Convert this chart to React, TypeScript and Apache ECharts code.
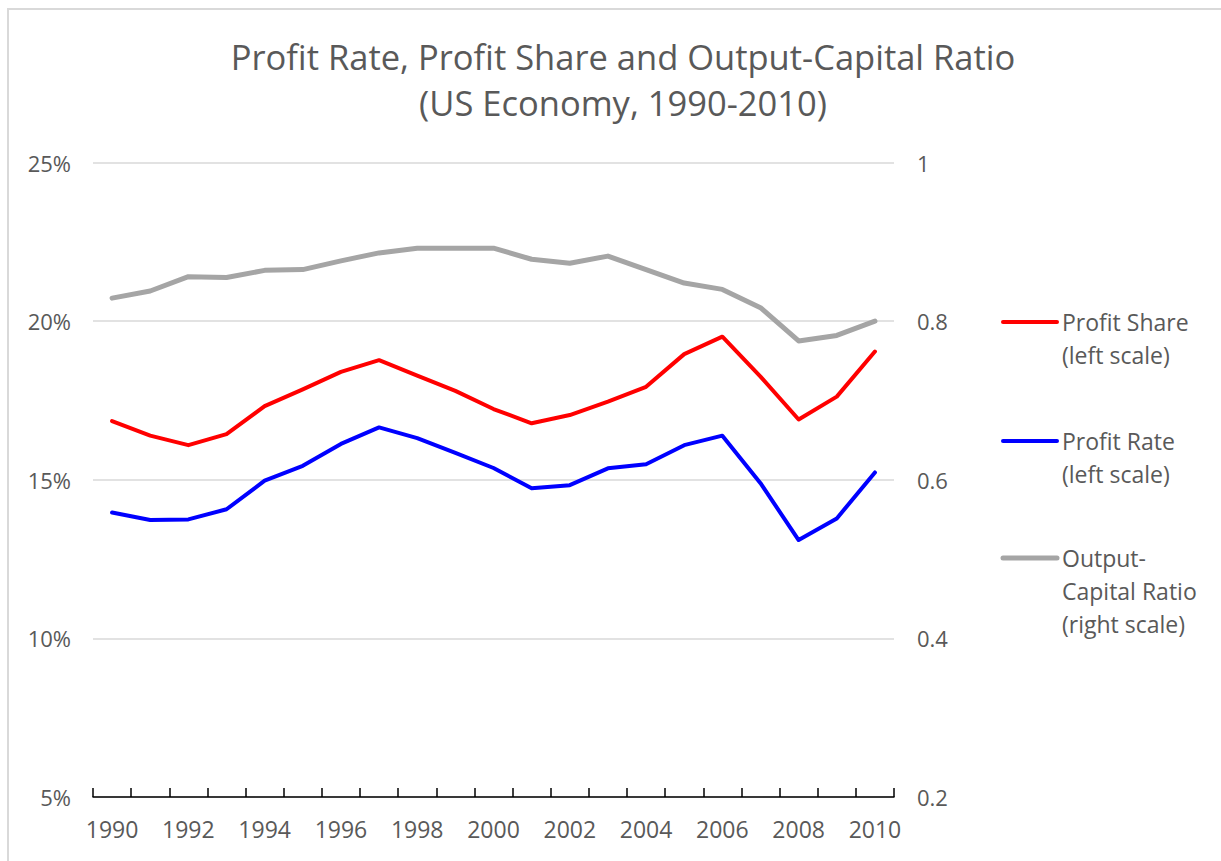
import React, { useEffect, useRef } from "react";
import * as echarts from "echarts";

const years = ["1990","1991","1992","1993","1994","1995","1996","1997","1998","1999","2000","2001","2002","2003","2004","2005","2006","2007","2008","2009","2010"];
const profitShare = [16.85,16.39,16.09,16.44,17.32,17.85,18.40,18.77,18.28,17.80,17.23,16.78,17.04,17.46,17.93,18.96,19.51,18.25,16.90,17.62,19.04];
const profitRate = [13.97,13.73,13.75,14.07,14.97,15.44,16.13,16.65,16.31,15.85,15.37,14.73,14.83,15.36,15.49,16.09,16.39,14.89,13.10,13.78,15.23];
const outputCapital = [0.829,0.838,0.856,0.855,0.864,0.865,0.876,0.886,0.892,0.892,0.892,0.878,0.873,0.882,0.865,0.848,0.840,0.817,0.775,0.782,0.800];

const titleLines = ["Profit Rate, Profit Share and Output-Capital Ratio", "(US Economy, 1990-2010)"];
const legendItems = [
  { label: "Profit Share\n(left scale)", color: "#FF0000", y: 322 },
  { label: "Profit Rate\n(left scale)", color: "#0000FF", y: 441 },
  { label: "Output-\nCapital Ratio\n(right scale)", color: "#A5A5A5", y: 558 },
];

const FONT = "'Open Sans', 'Noto Sans', sans-serif";
const TXT = "#595959";

export default function App() {
  const ref = useRef<HTMLDivElement>(null);
  useEffect(() => {
    if (!ref.current) return;
    const chart = echarts.init(ref.current, null, { renderer: "svg" });
    const graphics: any[] = [
      {
        type: "rect",
        shape: { x: 8, y: 9, width: 1400, height: 1000 },
        style: { fill: "none", stroke: "#D9D9D9", lineWidth: 2 },
        silent: true,
        z: -10,
      },
    ];
    legendItems.forEach((it) => {
      graphics.push({
        type: "line",
        shape: { x1: 1003, y1: it.y, x2: 1057, y2: it.y },
        style: { stroke: it.color, lineWidth: it.color === "#A5A5A5" ? 5 : 4, lineCap: "round" },
      });
      graphics.push({
        type: "text",
        x: 1062,
        y: it.y - 16.5,
        style: {
          text: it.label,
          fill: TXT,
          font: `23px ${FONT}`,
          lineHeight: 33,
          verticalAlign: "top",
          align: "left",
        },
      });
    });
    chart.setOption({
      animation: false,
      backgroundColor: "#ffffff",
      textStyle: { fontFamily: FONT },
      title: {
        text: titleLines.join("\n"),
        left: 618,
        top: 28,
        textAlign: "center",
        textStyle: { fontFamily: FONT, fontSize: 34.5, fontWeight: "normal", color: TXT, lineHeight: 46 },
      },
      grid: { left: 93, right: 327, top: 162.5, bottom: 64 },
      xAxis: {
        type: "category",
        data: years,
        boundaryGap: true,
        axisLine: { lineStyle: { color: "#000000", width: 1.5 } },
        axisTick: { show: true, inside: true, length: 9, interval: 0, lineStyle: { color: "#000000", width: 1.5 } },
        axisLabel: { interval: 1, color: TXT, fontSize: 23, fontFamily: FONT, margin: 20 },
        splitLine: { show: false },
      },
      yAxis: [
        {
          type: "value",
          min: 5,
          max: 25,
          interval: 5,
          axisLine: { show: false },
          axisTick: { show: false },
          axisLabel: { formatter: "{value}%", color: TXT, fontSize: 22, fontFamily: FONT, margin: 22 },
          splitLine: { lineStyle: { color: "#D9D9D9", width: 1.5 } },
        },
        {
          type: "value",
          min: 0.2,
          max: 1,
          interval: 0.2,
          axisLine: { show: false },
          axisTick: { show: false },
          axisLabel: {
            formatter: (v: number) => String(Math.round(v * 10) / 10),
            color: TXT,
            fontSize: 22,
            fontFamily: FONT,
            margin: 23,
          },
          splitLine: { show: false },
        },
      ],
      series: [
        {
          name: "Output-Capital Ratio",
          type: "line",
          yAxisIndex: 1,
          data: outputCapital,
          symbol: "none",
          lineStyle: { color: "#A5A5A5", width: 5, cap: "round", join: "round" },
          z: 2,
        },
        {
          name: "Profit Share",
          type: "line",
          data: profitShare,
          symbol: "none",
          lineStyle: { color: "#FF0000", width: 4, cap: "round", join: "round" },
          z: 3,
        },
        {
          name: "Profit Rate",
          type: "line",
          data: profitRate,
          symbol: "none",
          lineStyle: { color: "#0000FF", width: 4, cap: "round", join: "round" },
          z: 3,
        },
      ],
      graphic: graphics,
    });
    return () => chart.dispose();
  }, []);
  return (
    <div
      ref={ref}
      style={{ position: "fixed", left: 0, top: 0, width: 1221, height: 861, background: "#fff" }}
    />
  );
}
